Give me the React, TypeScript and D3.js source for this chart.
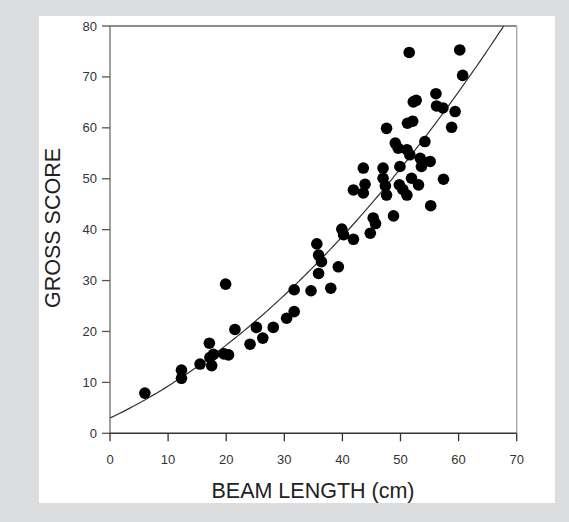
import React from "react";
import * as d3 from "d3";

const beamLength: number[] = [
  6.0, 12.3, 12.3, 15.5, 17.1, 17.2, 17.5, 17.8, 19.6, 20.4, 19.9, 21.5, 24.1, 25.2, 26.3, 28.1,
  30.4, 31.7, 31.7, 34.6, 38.0, 35.9, 39.3, 36.4, 35.9, 35.6, 39.9, 40.2, 41.9, 44.8, 45.3, 45.7,
  48.8, 55.2, 57.4, 41.9, 43.6, 43.9, 43.6, 47.0, 47.0, 47.4, 47.6, 49.8, 51.9, 53.1, 51.1, 50.4,
  49.9, 53.6, 49.1, 49.6, 51.1, 51.6, 54.2, 53.4, 55.1, 47.6, 51.2, 52.1, 58.8, 59.4, 57.3, 56.2,
  56.1, 52.2, 52.7, 51.5, 60.2, 60.7,
];
const grossScore: number[] = [
  7.9, 12.4, 10.8, 13.6, 17.7, 14.9, 13.3, 15.5, 15.6, 15.4, 29.3, 20.4, 17.5, 20.8, 18.7, 20.8,
  22.6, 23.9, 28.2, 28.0, 28.5, 31.4, 32.7, 33.7, 35.0, 37.2, 40.1, 39.0, 38.1, 39.3, 42.3, 41.2,
  42.7, 44.7, 49.9, 47.8, 47.2, 48.9, 52.1, 52.1, 50.1, 48.6, 46.8, 48.8, 50.1, 48.8, 46.8, 47.9,
  52.4, 52.4, 57.0, 56.0, 55.7, 54.7, 57.3, 54.0, 53.4, 59.9, 60.9, 61.3, 60.1, 63.2, 63.9, 64.3,
  66.7, 65.1, 65.4, 74.8, 75.3, 70.3,
];
const xTicks: number[] = [0, 10, 20, 30, 40, 50, 60, 70];
const yTicks: number[] = [0, 10, 20, 30, 40, 50, 60, 70, 80];
// quadratic regression fit: score = a + b*len + c*len^2
const fitA = 3.0;
const fitB = 0.54;
const fitC = 0.0088;

export default function App() {
  const W = 569;
  const H = 522;
  const x = d3.scaleLinear().domain([0, 70]).range([110, 516.7]);
  const y = d3.scaleLinear().domain([0, 80]).range([433.3, 26]);
  const font = "'Liberation Sans', Arial, Helvetica, sans-serif";

  const fitPts: [number, number][] = [];
  for (let v = 0; v <= 70; v += 0.5) {
    const s = fitA + fitB * v + fitC * v * v;
    if (s <= 80) fitPts.push([v, s]);
  }
  const disc = fitB * fitB - 4 * fitC * (fitA - 80);
  const xTop = (-fitB + Math.sqrt(disc)) / (2 * fitC);
  fitPts.push([xTop, 80]);
  const line = d3
    .line<[number, number]>()
    .x((d) => x(d[0]))
    .y((d) => y(d[1]));

  return (
    <svg width={W} height={H} style={{ position: "absolute", left: 0, top: 0 }}>
      <rect x={0} y={0} width={W} height={H} fill="#dcdddf" />
      <rect x={39} y={16} width={516} height={487} fill="#ffffff" />
      <line x1={x(0)} x2={x(70)} y1={y(80)} y2={y(80)} stroke="#666" strokeWidth={1.4} />
      <line x1={x(70)} x2={x(70)} y1={y(80)} y2={y(0)} stroke="#aaa" strokeWidth={1.4} />
      <line x1={x(0)} x2={x(0)} y1={y(80)} y2={y(0)} stroke="#777" strokeWidth={1.4} />
      <line x1={x(0)} x2={x(70)} y1={y(0)} y2={y(0)} stroke="#333" strokeWidth={1.5} />
      {yTicks.map((t) => (
        <g key={"y" + t}>
          <line x1={x(0) - 8} x2={x(0)} y1={y(t)} y2={y(t)} stroke="#555" strokeWidth={1.3} />
          <text
            x={97}
            y={y(t)}
            dy="0.35em"
            textAnchor="end"
            fontFamily={font}
            fontSize={13}
            fill="#333"
          >
            {t}
          </text>
        </g>
      ))}
      {xTicks.map((t) => (
        <g key={"x" + t}>
          <line x1={x(t)} x2={x(t)} y1={y(0)} y2={y(0) + 8} stroke="#333" strokeWidth={1.3} />
          <text
            x={x(t)}
            y={459}
            dy="0.35em"
            textAnchor="middle"
            fontFamily={font}
            fontSize={13}
            fill="#333"
          >
            {t}
          </text>
        </g>
      ))}
      <path d={line(fitPts) || ""} fill="none" stroke="#333" strokeWidth={1.2} />
      {beamLength.map((b, i) => (
        <circle key={i} cx={x(b)} cy={y(grossScore[i])} r={5.8} fill="#000" />
      ))}
      <text
        x={313}
        y={498}
        textAnchor="middle"
        fontFamily={font}
        fontSize={21.5}
        fill="#222"
      >
        BEAM LENGTH (cm)
      </text>
      <text
        transform={`translate(60,228) rotate(-90)`}
        textAnchor="middle"
        fontFamily={font}
        fontSize={21.5}
        fill="#222"
      >
        GROSS SCORE
      </text>
    </svg>
  );
}
